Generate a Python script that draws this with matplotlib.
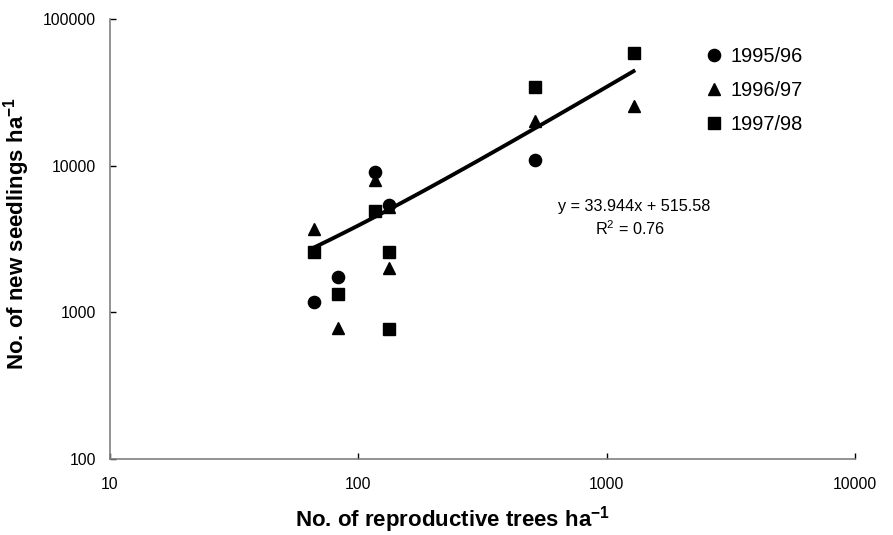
import numpy as np
import matplotlib.pyplot as plt

plt.rcParams['font.family'] = ['Liberation Sans', 'DejaVu Sans']
plt.rcParams['mathtext.fontset'] = 'custom'
plt.rcParams['mathtext.rm'] = 'Liberation Sans'
plt.rcParams['mathtext.bf'] = 'Liberation Sans:bold'

# trees ha-1 vs new seedlings ha-1, per season
x_9596 = [66.5, 83, 117, 133, 515]
y_9596 = [1170, 1730, 9100, 5400, 11000]

x_9697 = [66.5, 83, 117, 133, 133, 515, 1283]
y_9697 = [3700, 780, 8000, 5200, 2000, 20200, 25500]

x_9798 = [66.5, 83, 117, 133, 133, 515, 1283]
y_9798 = [2570, 1330, 4930, 2570, 770, 34200, 58300]

# linear trendline as printed on the chart
slope = 33.944
intercept = 515.58
r2 = 0.76

fig = plt.figure(figsize=(8.93, 5.35), dpi=100)
ax = fig.add_axes([110/893, 1-459/535, 745/893, 440/535])

all_x = x_9596 + x_9697 + x_9798
xt = np.linspace(min(all_x), max(all_x), 200)
ax.plot(xt, slope*xt + intercept, color='k', lw=2.8, zorder=2)

ms = 8.8
ax.plot(x_9596, y_9596, 'o', color='k', ms=ms, ls='none', label='1995/96', zorder=3)
ax.plot(x_9697, y_9697, '^', color='k', ms=ms, ls='none', label='1996/97', zorder=3)
ax.plot(x_9798, y_9798, 's', color='k', ms=ms*0.95, ls='none', label='1997/98', zorder=3)

ax.set_xscale('log')
ax.set_yscale('log')
ax.set_xlim(10, 10000)
ax.set_ylim(100, 100000)
ax.set_xticks([10, 100, 1000, 10000])
ax.set_xticklabels(['10', '100', '1000', '10000'])
ax.set_yticks([100, 1000, 10000, 100000])
ax.set_yticklabels(['100', '1000', '10000', '100000'])
ax.minorticks_off()

for s in ['top', 'right']:
    ax.spines[s].set_visible(False)
for s in ['left', 'bottom']:
    ax.spines[s].set_color('#808080')
    ax.spines[s].set_linewidth(1.2)
ax.tick_params(axis='both', direction='in', length=4, width=1, color='k', labelsize=11.3)
ax.tick_params(axis='x', pad=13)
ax.tick_params(axis='y', pad=10)

ax.set_xlabel(r'No. of reproductive trees ha$^{\mathbf{-1}}$', fontsize=16, fontweight='bold')
ax.xaxis.set_label_coords((453-110)/745, -(504-459)/440)
ax.set_ylabel(r'No. of new seedlings ha$^{\mathbf{-1}}$', fontsize=16, fontweight='bold')
ax.yaxis.set_label_coords(-(110-32)/745, (459-234)/440)

ax.text(634/893, 1-206/535, 'y = %.3fx + %.2f' % (slope, intercept), transform=fig.transFigure,
        ha='center', va='center', fontsize=11.7)
ax.text(630/893, 1-229/535, r'R$^2$ = %.2f' % r2, transform=fig.transFigure,
        ha='center', va='center', fontsize=11.7)

ax.legend(loc='upper left', bbox_to_anchor=(706/893, 1-47/535), bbox_transform=fig.transFigure,
          frameon=False, fontsize=14.4, handlelength=0.8, handletextpad=0.4,
          labelspacing=0.76, borderpad=0, borderaxespad=0)

fig.savefig('out.png', dpi=100)
